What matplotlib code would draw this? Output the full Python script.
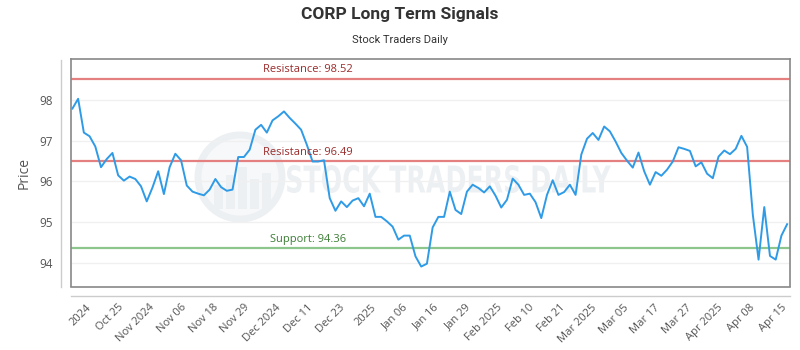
import numpy as np
import matplotlib
matplotlib.use('Agg')
import matplotlib.pyplot as plt
from matplotlib.lines import Line2D
from matplotlib.patches import Circle, Rectangle, PathPatch
from matplotlib.textpath import TextPath
from matplotlib.font_manager import FontProperties
from matplotlib.transforms import Affine2D, IdentityTransform

# daily prices (one per session)
price = [97.79, 98.03, 97.20, 97.11, 96.86, 96.35, 96.55, 96.70, 96.15, 96.02,
         96.12, 96.06, 95.88, 95.51, 95.85, 96.25, 95.69, 96.35, 96.68, 96.52,
         95.90, 95.75, 95.70, 95.66, 95.80, 96.06, 95.86, 95.77, 95.80, 96.60,
         96.60, 96.78, 97.27, 97.39, 97.20, 97.50, 97.60, 97.72, 97.56, 97.42,
         97.27, 96.90, 96.49, 96.49, 96.52, 95.59, 95.28, 95.51, 95.37, 95.53,
         95.59, 95.39, 95.70, 95.13, 95.13, 95.02, 94.89, 94.57, 94.67, 94.67,
         94.16, 93.91, 93.98, 94.87, 95.13, 95.13, 95.75, 95.30, 95.20, 95.75,
         95.92, 95.84, 95.73, 95.88, 95.65, 95.36, 95.55, 96.07, 95.92, 95.67,
         95.70, 95.49, 95.10, 95.67, 96.03, 95.67, 95.74, 95.92, 95.67, 96.66,
         97.05, 97.19, 97.02, 97.35, 97.23, 96.98, 96.70, 96.51, 96.34, 96.71,
         96.25, 95.92, 96.23, 96.14, 96.29, 96.49, 96.84, 96.80, 96.75, 96.37,
         96.47, 96.19, 96.08, 96.61, 96.76, 96.67, 96.80, 97.12, 96.85, 95.18,
         94.08, 95.37, 94.17, 94.08, 94.67, 94.95]

tick_labels = ['2024', 'Oct 25', 'Nov 2024', 'Nov 06', 'Nov 18', 'Nov 29',
               'Dec 2024', 'Dec 11', 'Dec 23', '2025', 'Jan 06', 'Jan 16',
               'Jan 29', 'Feb 2025', 'Feb 10', 'Feb 21', 'Mar 2025', 'Mar 05',
               'Mar 17', 'Mar 27', 'Apr 2025', 'Apr 08', 'Apr 15']

resistance_levels = [98.52, 96.49]
support_level = 94.36

title = 'CORP Long Term Signals'
subtitle = 'Stock Traders Daily'

W, H = 800, 350
fig = plt.figure(figsize=(8, 3.5), dpi=100)
fig.patch.set_facecolor('white')

# plot box in pixels (from the top-left corner)
left, right, top, bottom = 70.7, 790, 59.3, 286.5
ax = fig.add_axes([left / W, 1 - bottom / H, (right - left) / W, (bottom - top) / H])
ax.patch.set_alpha(0)

# watermark behind the axes: faded logo + "STOCK TRADERS DAILY"
wm = '#edf0f3'
cx, cy, r = 240, 350 - 177, 42
fig.add_artist(Circle((cx, cy), r, transform=IdentityTransform(), facecolor='#f7f8fa',
                      edgecolor=wm, lw=5, zorder=-3))
for bx, bh in [(-26, 24), (-14, 34), (-2, 42), (10, 30), (22, 36)]:
    fig.add_artist(Rectangle((cx + bx, cy - r + 10), 9, bh, transform=IdentityTransform(),
                             facecolor=wm, edgecolor='none', zorder=-2))
tp = TextPath((0, 0), 'STOCK TRADERS DAILY', size=40,
              prop=FontProperties(family='DejaVu Sans', weight='bold'))
ext = tp.get_extents()
sx = 324 / ext.width
sy = 28 / ext.height
tr = Affine2D().translate(-ext.x0, -ext.y0).scale(sx, sy).translate(287, 350 - 193)
fig.add_artist(PathPatch(tp, transform=tr, facecolor=wm, edgecolor='none', zorder=-1))

x = np.arange(len(price))
ax.plot(x, price, color='#2f9be6', lw=1.4, zorder=3)

for lvl in resistance_levels:
    ax.axhline(lvl, color='#e58080', lw=1.6, zorder=2)
    ax.annotate('Resistance: %.2f' % lvl, xy=(0.33, lvl), xycoords=('axes fraction', 'data'),
                xytext=(0, 2.5), textcoords='offset points', ha='center', va='bottom',
                color='#9b2b2b', fontsize=8, family='Open Sans', zorder=4)
ax.axhline(support_level, color='#8cc68c', lw=1.6, zorder=2)
ax.annotate('Support: %.2f' % support_level, xy=(0.33, support_level),
            xycoords=('axes fraction', 'data'), xytext=(0, 2.5), textcoords='offset points',
            ha='center', va='bottom', color='#3b7d35', fontsize=8, family='Open Sans', zorder=4)

ax.set_xlim(-0.3, len(price) - 0.5)
ax.set_ylim(93.42, 99.0)
ax.set_yticks([94, 95, 96, 97, 98])
ax.grid(axis='y', color='#f0f0f0', lw=1, zorder=0)
ax.set_axisbelow(True)

ax.set_xticks(np.linspace(3.1, 124.6, len(tick_labels)))
ax.set_xticklabels(tick_labels)
ax.tick_params(axis='x', length=0, pad=14, labelsize=8, labelcolor='#555555')
ax.tick_params(axis='y', length=0, pad=12.5, labelsize=8.5, labelcolor='#555555')
for lab in ax.get_xticklabels():
    lab.set_rotation(45)
    lab.set_ha('right')
    lab.set_va('center')
    lab.set_rotation_mode('anchor')
    lab.set_family('Open Sans')
for lab in ax.get_yticklabels():
    lab.set_family('Open Sans')

for s in ax.spines.values():
    s.set_color('#888888')
    s.set_linewidth(1.2)

ax.set_ylabel('Price', family='Open Sans', fontsize=10, color='#555555')
ax.yaxis.set_label_coords((32 - left) / (right - left), 0.5)

# offset axis lines outside the plot box
fig.add_artist(Line2D([60.7 / W, 60.7 / W], [1 - 287 / H, 1 - 60 / H],
                      transform=fig.transFigure, color='#cccccc', lw=1))
fig.add_artist(Line2D([left / W, right / W], [1 - 296 / H, 1 - 296 / H],
                      transform=fig.transFigure, color='#cccccc', lw=1))

fig.text(0.5, 1 - 14.5 / H, title, ha='center', va='center', fontsize=12.5,
         weight='bold', family='Roboto', color='#333333')
fig.text(0.5, 1 - 40 / H, subtitle, ha='center', va='center', fontsize=8,
         family='Roboto', color='#333333')

fig.savefig('out.png', dpi=100)
